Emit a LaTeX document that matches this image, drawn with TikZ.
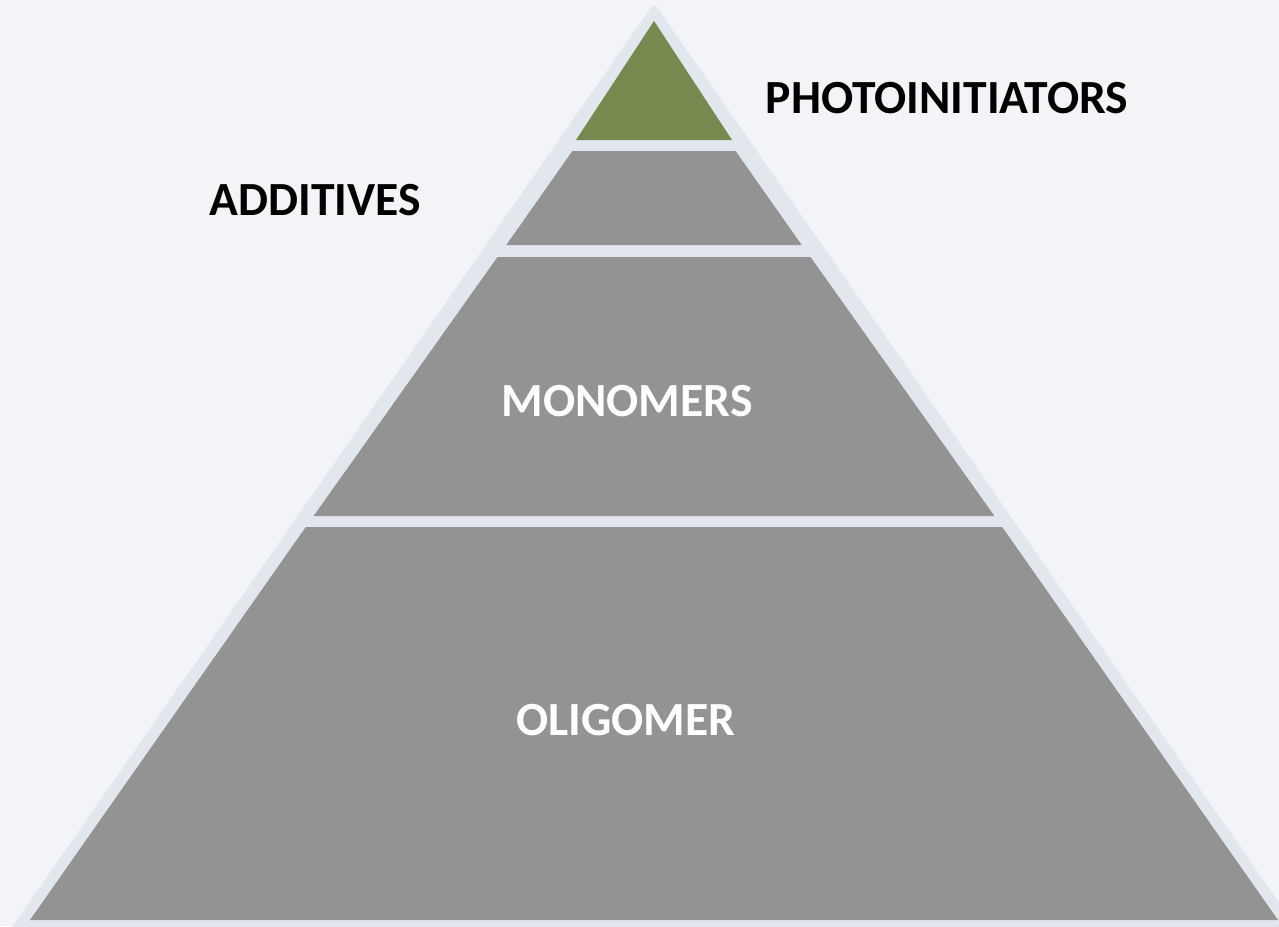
\documentclass[tikz,border=0pt]{standalone}
\usepackage{fontspec}
\setmainfont{Carlito}
\definecolor{bgc}{HTML}{F2F4F8}
\definecolor{bandc}{HTML}{E2E7EE}
\definecolor{layerc}{HTML}{939393}
\definecolor{greenc}{HTML}{76894F}
\tikzset{
  lbl/.style={font=\fontsize{47.6}{57}\selectfont\bfseries, anchor=base, inner sep=0pt},
  outlbl/.style={lbl, text=black},
  inlbl/.style={lbl, text=white},
  layer/.style={fill=layerc},
}
\begin{document}
\begin{tikzpicture}[x=1pt,y=-1pt]
\fill[bgc] (0,0) rectangle (1279,926);
\useasboundingbox (0,0) rectangle (1279,926);
% outer band
\fill[bandc, rounded corners=5pt] (654,3) -- (1300,933) -- (8,933) -- cycle;
% green top
\fill[greenc] (654,21) -- (732,140) -- (576,140) -- cycle;
% layers: edges x = 654 +- 0.705 (y-35)
\fill[layer] (572.4,151) -- (735.6,151) -- (801.7,245) -- (506.3,245) -- cycle;
\fill[layer] (497.5,257) -- (810.5,257) -- (994.4,516) -- (313.6,516) -- cycle;
\fill[layer] (305.8,527) -- (1002.2,527) -- (1278,920) -- (30,920) -- cycle;
% labels
\node[outlbl] (photo) at (947,113) {PHOTOINITIATORS};
\node[outlbl] (add) at (315.5,215) {ADDITIVES};
\node[inlbl] (mono) at (627,416) {MONOMERS};
\node[inlbl] (olig) at (626,735) {OLIGOMER};
\end{tikzpicture}
\end{document}
